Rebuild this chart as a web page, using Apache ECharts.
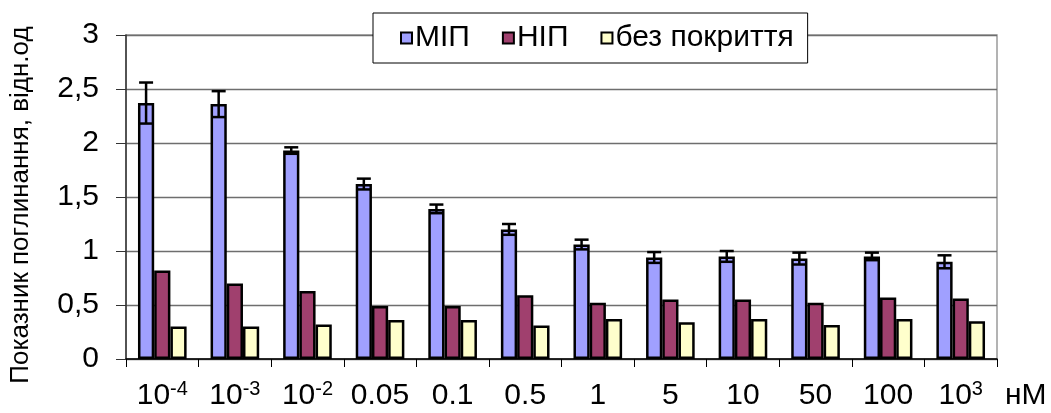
<!DOCTYPE html>
<html>
<head>
<meta charset="utf-8">
<script src="https://cdn.jsdelivr.net/npm/echarts@6/dist/echarts.min.js"></script>
<style>
  html, body { margin: 0; padding: 0; background: #fff; }
  #chart { width: 1051px; height: 413px; }
</style>
</head>
<body>
<div id="chart"></div>
<script>
// Concentrations (nM); "^" marks a power of ten written with a superscript
const categories = ['10^-4', '10^-3', '10^-2', '0.05', '0.1', '0.5', '1', '5', '10', '50', '100', '10^3'];
const seriesNames = ['МІП', 'НІП', 'без покриття'];

// Absorbance, relative units
const mipValues = [2.37, 2.36, 1.93, 1.62, 1.39, 1.20, 1.06, 0.94, 0.95, 0.93, 0.95, 0.90];
const mipErrors = [0.19, 0.12, 0.03, 0.05, 0.04, 0.05, 0.045, 0.05, 0.05, 0.055, 0.035, 0.06];
const nipValues = [0.82, 0.70, 0.63, 0.49, 0.49, 0.59, 0.52, 0.55, 0.55, 0.52, 0.57, 0.56];
const bareValues = [0.30, 0.30, 0.32, 0.36, 0.36, 0.31, 0.37, 0.34, 0.37, 0.315, 0.37, 0.35];

const yTicks = [0, 0.5, 1, 1.5, 2, 2.5, 3];

const FONT = '"Liberation Sans", Arial, sans-serif';
const GAP = 0.33;

const chart = echarts.init(document.getElementById('chart'), null, { renderer: 'canvas' });

function catLabel(v) {
  const p = v.split('^');
  return p.length === 2 ? p[0] + '{sup|' + p[1] + '}' : v;
}

const barStyle = (color) => ({ color: color, borderColor: '#000', borderWidth: 2.5 });

chart.setOption({
  animation: false,
  textStyle: { fontFamily: FONT, color: '#000' },
  grid: {
    left: 123, right: 54, top: 35, bottom: 54,
    show: true, borderColor: '#9a9a9a', borderWidth: 1.5
  },
  legend: {
    data: seriesNames,
    left: 373, top: 13,
    padding: [10, 14, 10, 27],
    borderColor: '#000', borderWidth: 1,
    backgroundColor: '#fff',
    icon: 'rect',
    itemWidth: 11, itemHeight: 11, itemGap: 32,
    itemStyle: { borderColor: '#000', borderWidth: 2 },
    textStyle: { fontFamily: FONT, fontSize: 30, lineHeight: 30, color: '#000', padding: [0, 0, 0, -2] }
  },
  xAxis: {
    type: 'category',
    data: categories,
    name: 'нМ',
    nameLocation: 'end',
    nameGap: 8,
    nameTextStyle: { fontFamily: FONT, fontSize: 30, color: '#000', verticalAlign: 'top', padding: [22, 0, 0, 0] },
    axisLine: { lineStyle: { color: '#000', width: 1.5 } },
    axisTick: { show: true, length: 8, lineStyle: { color: '#000', width: 1 } },
    axisLabel: {
      margin: 20,
      interval: 0,
      formatter: catLabel,
      fontFamily: FONT, fontSize: 30, color: '#000', lineHeight: 34,
      rich: {
        sup: { fontFamily: FONT, fontSize: 20, lineHeight: 22, verticalAlign: 'top', color: '#000' }
      }
    },
    splitLine: { show: false }
  },
  yAxis: {
    type: 'value',
    min: 0, max: 3, interval: 0.5,
    name: 'Показник поглинання, відн.од',
    nameLocation: 'middle',
    nameRotate: 90,
    nameGap: 92,
    nameTextStyle: { fontFamily: FONT, fontSize: 26, color: '#000', padding: [0, 16, 0, 0] },
    axisLine: { show: true, lineStyle: { color: '#333', width: 1.5 } },
    axisTick: { show: true, length: 10, lineStyle: { color: '#333', width: 1 } },
    axisLabel: {
      margin: 27,
      fontFamily: FONT, fontSize: 30, color: '#000',
      formatter: (v) => yTicks.indexOf(v) >= 0 ? String(v).replace('.', ',') : ''
    },
    splitLine: { show: true, lineStyle: { color: '#6e6e6e', width: 1.3 } }
  },
  series: [
    {
      name: seriesNames[0], type: 'bar', data: mipValues,
      barGap: '0%', barCategoryGap: (GAP * 100) + '%',
      itemStyle: barStyle('#a0a0ff')
    },
    {
      name: seriesNames[1], type: 'bar', data: nipValues,
      barGap: '0%', barCategoryGap: (GAP * 100) + '%',
      itemStyle: barStyle('#a0406e')
    },
    {
      name: seriesNames[2], type: 'bar', data: bareValues,
      barGap: '0%', barCategoryGap: (GAP * 100) + '%',
      itemStyle: barStyle('#ffffcc')
    },
    {
      // error bars on the МІП columns
      name: 'err', type: 'custom',
      data: mipValues.map((v, i) => [i, v, mipErrors[i]]),
      z: 10,
      renderItem: function (params, api) {
        const i = api.value(0);
        const v = api.value(1);
        const e = api.value(2);
        const band = api.size([1, 0])[0];
        const bw = band * (1 - GAP) / 3;
        const x = api.coord([i, v])[0] - bw;
        const yHi = api.coord([i, v + e])[1];
        const yLo = api.coord([i, v - e])[1];
        const half = 7;
        const st = { stroke: '#000', lineWidth: 2.5 };
        return {
          type: 'group',
          children: [
            { type: 'line', shape: { x1: x, y1: yHi, x2: x, y2: yLo }, style: st },
            { type: 'line', shape: { x1: x - half, y1: yHi, x2: x + half, y2: yHi }, style: st },
            { type: 'line', shape: { x1: x - half, y1: yLo, x2: x + half, y2: yLo }, style: st }
          ]
        };
      }
    }
  ]
});
</script>
</body>
</html>
